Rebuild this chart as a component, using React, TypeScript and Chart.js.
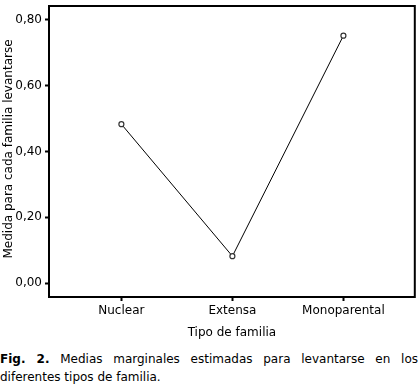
import React, { useEffect, useRef } from "react";
import { Chart, registerables } from "chart.js";

Chart.register(...registerables);

const categories = ["Nuclear", "Extensa", "Monoparental"];
const means = [0.483, 0.082, 0.752];
const yTicks = [0, 0.2, 0.4, 0.6, 0.8];
const yTitle = "Medida para cada familia levantarse";
const xTitle = "Tipo de familia";

const FONT = "'DejaVu Sans', Verdana, sans-serif";

const boxPlugin = {
  id: "box",
  afterDraw(chart: any) {
    const { ctx, chartArea } = chart;
    ctx.save();
    ctx.strokeStyle = "#000";
    ctx.lineWidth = 2;
    ctx.strokeRect(chartArea.left, chartArea.top, chartArea.right - chartArea.left, chartArea.bottom - chartArea.top);
    ctx.translate(9, 149);
    ctx.rotate(-Math.PI / 2);
    ctx.font = "12px " + FONT;
    ctx.fillStyle = "#000";
    ctx.textAlign = "center";
    ctx.textBaseline = "middle";
    ctx.fillText(yTitle, 0, 0);
    ctx.restore();
  },
};

export default function App() {
  const ref = useRef<HTMLCanvasElement>(null);
  useEffect(() => {
    document.body.style.margin = "0";
    const chart = new Chart(ref.current!, {
      type: "line",
      data: {
        datasets: [
          {
            data: means.map((v, i) => ({ x: i, y: v })),
            borderColor: "#000",
            borderWidth: 1,
            pointRadius: 2.5,
            pointBorderWidth: 1.2,
            pointBackgroundColor: "#fff",
            pointBorderColor: "#333",
            tension: 0,
          },
        ],
      },
      options: {
        animation: false,
        responsive: false,
        layout: { padding: { top: 4, right: 2, left: 0, bottom: 0 } },
        plugins: { legend: { display: false }, tooltip: { enabled: false } },
        scales: {
          x: {
            type: "linear",
            min: -0.652,
            max: 2.643,
            afterBuildTicks: (s: any) => {
              s.ticks = categories.map((_, i) => ({ value: i }));
            },
            afterFit: (s: any) => {
              s.height = 53;
            },
            ticks: {
              callback: (v: any) => categories[v] ?? "",
              color: "#000",
              font: { family: FONT, size: 12 },
              padding: 3,
              maxRotation: 0,
            },
            grid: { drawOnChartArea: false, drawTicks: true, tickLength: 4, tickColor: "#000", tickWidth: 2 },
            border: { display: false },
            title: {
              display: true,
              text: xTitle,
              color: "#000",
              font: { family: FONT, size: 12 },
              padding: { top: 0, bottom: 10 },
            },
          },
          y: {
            min: -0.042,
            max: 0.842,
            afterBuildTicks: (s: any) => {
              s.ticks = yTicks.map((v) => ({ value: v }));
            },
            afterFit: (s: any) => {
              s.width = 49;
            },
            ticks: {
              callback: (v: any) => Number(v).toFixed(2).replace(".", ","),
              color: "#000",
              font: { family: FONT, size: 12, lineHeight: 0.5 },
              padding: 3,
            },
            grid: { drawOnChartArea: false, drawTicks: true, tickLength: 4, tickColor: "#000", tickWidth: 2 },
            border: { display: false },
          },
        },
      },
      plugins: [boxPlugin],
    });
    return () => chart.destroy();
  }, []);

  return (
    <div style={{ width: 420, fontFamily: FONT, color: "#000" }}>
      <canvas ref={ref} width={420} height={350} style={{ display: "block" }} />
      <div style={{ width: 418, fontSize: 12, lineHeight: "18px", textAlign: "justify" }}>
        <b>Fig. 2.</b> Medias marginales estimadas para levantarse en los diferentes tipos de familia.
      </div>
    </div>
  );
}
